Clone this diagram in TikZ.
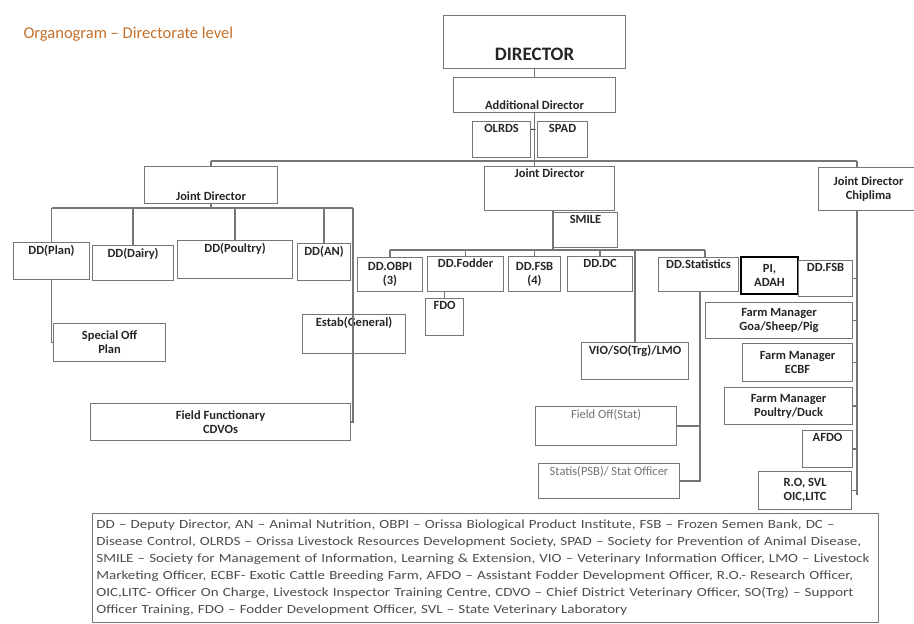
\documentclass[tikz,border=0pt]{standalone}
\usepackage{fontspec}
\setmainfont{Carlito}
\newfontfamily\legendfont[FakeStretch=1.2]{Carlito}
\usetikzlibrary{positioning,calc}

\definecolor{titleorange}{RGB}{196,112,44}
\definecolor{linegray}{RGB}{118,118,118}

\begin{document}
\begin{tikzpicture}[
    x=1pt, y=-1pt,
    box/.style={rectangle, draw=linegray, line width=1.1pt, fill=white, anchor=north west, inner sep=2pt, align=center, text=black!85, font=\bfseries\fontsize{12.5}{14}\selectfont},
    lbl/.style={inner sep=3pt, align=center, text=black!85, font=\bfseries\fontsize{12.5}{14}\selectfont},
    toptext/.style={label={[lbl, anchor=north]north:#1}},
    bottext/.style={label={[lbl, anchor=south]south:#1}},
    plaintext/.style={label={[lbl, anchor=north, font=\fontsize{12.5}{14}\selectfont, text=black!55]north:#1}},
    head/.style={box, draw=black, line width=2pt},
    link/.style={draw=linegray, line width=1.3pt}
]
    \useasboundingbox (0,0) rectangle (914,624);

    \node[anchor=west, text=titleorange, font=\fontsize{16.5}{19}\selectfont] (title) at (20,34) {Organogram – Directorate level};

    % top of the chart
    \node[box, minimum width=182pt, minimum height=53pt, label={[lbl, anchor=south, inner sep=8pt, font=\bfseries\fontsize{19}{21}\selectfont]south:DIRECTOR}] (director) at (443,15) {};
    \node[box, minimum width=162pt, minimum height=35pt, bottext=Additional Director] (adddir) at (453,77) {};
    \node[box, minimum width=58pt, minimum height=36pt, toptext=OLRDS] (olrds) at (472,121) {};
    \node[box, minimum width=50pt, minimum height=36pt, toptext=SPAD] (spad) at (537,121) {};
    \node[lbl] (dash) at (533.5,131) {–};

    \node[box, minimum width=133pt, minimum height=37pt, bottext=Joint Director] (jdl) at (144,166) {};
    \node[box, minimum width=130pt, minimum height=44pt, toptext=Joint Director] (jdm) at (484,166) {};
    \node[box, minimum width=100pt, minimum height=43pt] (jdc) at (818,167) {Joint Director\\Chiplima};

    % left wing
    \node[box, minimum width=76pt, minimum height=37pt, toptext=DD(Plan)] (ddplan) at (13,242) {};
    \node[box, minimum width=81pt, minimum height=35pt, toptext=DD(Dairy)] (dddairy) at (92,245) {};
    \node[box, minimum width=115pt, minimum height=38pt, toptext=DD(Poultry)] (ddpoultry) at (177,240) {};
    \node[box, minimum width=53pt, minimum height=37pt, toptext=DD(AN)] (ddan) at (297,243) {};
    \node[box, minimum width=112pt, minimum height=38pt] (specialoff) at (53,323) {Special Off\\Plan};
    \node[box, minimum width=103pt, minimum height=39pt, toptext=Estab(General)] (estab) at (302,314) {};
    \node[box, minimum width=260pt, minimum height=37pt] (fieldfn) at (90,403) {Field Functionary\\CDVOs};

    % middle wing
    \node[box, minimum width=64pt, minimum height=35pt, toptext=SMILE] (smile) at (553,212) {};
    \node[box, minimum width=65pt, minimum height=34pt] (ddobpi) at (357,257) {DD.OBPI\\(3)};
    \node[box, minimum width=76pt, minimum height=35pt, toptext=DD.Fodder] (ddfodder) at (427,256) {};
    \node[box, minimum width=38pt, minimum height=37pt, toptext=FDO] (fdo) at (425,298) {};
    \node[box, minimum width=52pt, minimum height=35pt] (ddfsb) at (508,256) {DD.FSB\\(4)};
    \node[box, minimum width=65pt, minimum height=35pt, toptext=DD.DC] (dddc) at (567,256) {};
    \node[box, minimum width=107pt, minimum height=37pt, toptext=VIO/SO(Trg)/LMO] (vio) at (581,342) {};
    \node[box, minimum width=80pt, minimum height=34pt, toptext=DD.Statistics] (ddstat) at (658,257) {};
    \node[head, minimum width=57pt, minimum height=37pt] (piadah) at (740,256) {PI,\\ADAH};
    \node[box, minimum width=141pt, minimum height=39pt, plaintext=Field Off(Stat)] (fieldoff) at (535,406) {};
    \node[box, minimum width=141pt, minimum height=35pt, plaintext={Statis(PSB)/ Stat Officer}] (statoff) at (538,463) {};

    % right wing
    \node[box, minimum width=54pt, minimum height=36pt, toptext=DD.FSB] (ddfsbr) at (798,260) {};
    \node[box, minimum width=147pt, minimum height=36pt] (fmgoa) at (705,302) {Farm Manager\\Goa/Sheep/Pig};
    \node[box, minimum width=110pt, minimum height=38pt] (fmecbf) at (742,343) {Farm Manager\\ECBF};
    \node[box, minimum width=128pt, minimum height=37pt] (fmpoultry) at (724,387) {Farm Manager\\Poultry/Duck};
    \node[box, minimum width=50pt, minimum height=37pt, toptext=AFDO] (afdo) at (802,430) {};
    \node[box, minimum width=93pt, minimum height=38pt] (ro) at (758,471) {R.O, SVL\\OIC,LITC};

    % bus lines
    \coordinate (tbL) at (211,161);
    \coordinate (tbR) at (857,161);
    \coordinate (lbL) at (52,208);
    \coordinate (lbR) at (353,208);
    \coordinate (mbL) at (390,250);
    \coordinate (mbR) at (705,250);
    \coordinate (sv) at (700,0);
    \coordinate (rv) at (857,495);

    \draw[link] (director) -- (adddir);
    \draw[link] (adddir.south) -- (adddir.south |- jdm.north);
    \draw[link] (tbL) -- (tbR);
    \draw[link] (tbL) -- (tbL |- jdl.north);
    \draw[link] (tbR) -- (tbR |- jdc.north);

    \draw[link] (jdl.south) -- (jdl.south |- lbL);
    \draw[link] (lbL) -- (lbR);
    \foreach \n in {ddplan, dddairy, ddpoultry, ddan}
        \draw[link] (\n.north |- lbL) -- (\n.north);
    \draw[link] (lbR) |- (fieldfn.east);
    \draw[link] (ddplan.south) |- (specialoff.west);

    \draw[link] (jdm.south -| smile.west) -- (smile.west |- mbL);
    \draw[link] (mbL) -- (mbR);
    \draw[link] (mbL) -- (mbL |- ddobpi.north);
    \foreach \n in {ddfodder, ddfsb, dddc}
        \draw[link] (\n.north |- mbL) -- (\n.north);
    \draw[link] (mbR) -- (mbR |- ddstat.north);
    \draw[link] (vio.north |- mbL) -- (vio.north);
    \draw[link] (fdo.north) -- (fdo.north |- ddfodder.south);
    \draw[link] (sv |- ddstat.south) |- (statoff.east);
    \draw[link] (sv |- fieldoff.east) -- (fieldoff.east);

    \draw[link] (rv |- jdc.south) -- (rv);
    \foreach \n in {ddfsbr, fmgoa, fmecbf, fmpoultry, afdo, ro}
        \draw[link] (rv |- \n.east) -- (\n.east);

    % abbreviations
    \node[draw=linegray, line width=0.8pt, anchor=north west, minimum width=786pt, minimum height=109pt, text width=778pt, align=left, inner sep=4pt, text=black!70, font=\legendfont\fontsize{12.5}{17}\selectfont] (legend) at (92,513) {%
DD – Deputy Director, AN – Animal Nutrition, OBPI – Orissa Biological Product Institute, FSB – Frozen Semen Bank, DC –\\
Disease Control, OLRDS – Orissa Livestock Resources Development Society, SPAD – Society for Prevention of Animal Disease,\\
SMILE – Society for Management of Information, Learning \& Extension, VIO – Veterinary Information Officer, LMO – Livestock\\
Marketing Officer, ECBF- Exotic Cattle Breeding Farm, AFDO – Assistant Fodder Development Officer, R.O.- Research Officer,\\
OIC,LITC- Officer On Charge, Livestock Inspector Training Centre, CDVO – Chief District Veterinary Officer, SO(Trg) – Support\\
Officer Training, FDO – Fodder Development Officer, SVL – State Veterinary Laboratory};
\end{tikzpicture}
\end{document}
